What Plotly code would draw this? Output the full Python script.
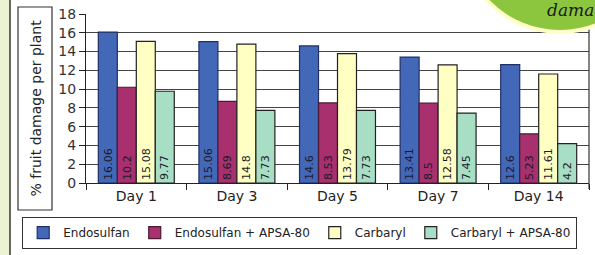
import plotly.graph_objects as go

days = ["Day 1", "Day 3", "Day 5", "Day 7", "Day 14"]
endosulfan = [16.06, 15.06, 14.6, 13.41, 12.6]
endosulfan_apsa = [10.2, 8.69, 8.53, 8.5, 5.23]
carbaryl = [15.08, 14.8, 13.79, 12.58, 11.61]
carbaryl_apsa = [9.77, 7.73, 7.73, 7.45, 4.2]

series = [
    ("Endosulfan", endosulfan, "#4468B8", "#1f2f66"),
    ("Endosulfan + APSA-80", endosulfan_apsa, "#A8306E", "#4a1a33"),
    ("Carbaryl", carbaryl, "#FFFFC4", "#222222"),
    ("Carbaryl + APSA-80", carbaryl_apsa, "#A8DEC4", "#222222"),
]

font_family = "DejaVu Sans, Verdana, sans-serif"

fig = go.Figure()
for name, vals, col, lcol in series:
    fig.add_trace(go.Bar(
        x=days, y=vals, name=name,
        marker=dict(color=col, line=dict(color=lcol, width=1.2)),
        text=[f"{v:g}" for v in vals],
        textposition="inside", insidetextanchor="start", textangle=-90,
        textfont=dict(size=12, color="#1a1a2a", family=font_family),
        cliponaxis=False,
    ))

W, H = 595, 255
L, R, T, B = 86, 6, 14, 72
pw, ph = W - L - R, H - T - B

def px(x):
    return (x - L) / pw

def py(y):
    return (H - B - y) / ph

shapes = [
    # light green strip at the left edge
    dict(type="rect", xref="paper", yref="paper", x0=px(0), x1=px(9.5), y0=py(H), y1=py(0),
         fillcolor="#EAF3D3", line=dict(width=0), layer="below"),
    dict(type="line", xref="paper", yref="paper", x0=px(10), x1=px(10), y0=py(H), y1=py(0),
         line=dict(color="#333333", width=1.5)),
    # y-axis title box
    dict(type="rect", xref="paper", yref="paper", x0=px(18), x1=px(52), y0=py(210), y1=py(7),
         line=dict(color="#333333", width=1.2), fillcolor="rgba(0,0,0,0)"),
    # right border of plot area
    dict(type="line", xref="paper", yref="paper", x0=1, x1=1, y0=py(189), y1=py(14),
         line=dict(color="#333333", width=1.2)),
    # green badge in the top-right corner
    dict(type="circle", xref="paper", yref="paper", x0=px(458), x1=px(662), y0=py(34), y1=py(-170),
         fillcolor="#FFFFC8", line=dict(width=0), layer="above"),
    dict(type="circle", xref="paper", yref="paper", x0=px(462), x1=px(658), y0=py(30), y1=py(-166),
         fillcolor="#8CC63F", line=dict(width=0), layer="above"),
]

annotations = [
    dict(text="% fruit damage per plant", xref="paper", yref="paper", x=px(35), y=py(108.5),
         textangle=-90, showarrow=False, font=dict(size=14, color="#222222", family=font_family),
         xanchor="center", yanchor="middle"),
    dict(text="<i>dama</i>", xref="paper", yref="paper", x=px(545), y=py(10),
         showarrow=False, xanchor="left", yanchor="middle",
         font=dict(size=17, color="#1a1a1a", family="DejaVu Serif, serif")),
]

fig.update_layout(
    width=W, height=H,
    margin=dict(l=L, r=R, t=T, b=B),
    paper_bgcolor="white", plot_bgcolor="white",
    barmode="group", bargap=0.245, bargroupgap=0,
    font=dict(family=font_family, color="#222222"),
    showlegend=True,
    legend=dict(orientation="h", x=px(22), y=py(217), xanchor="left", yanchor="top",
                bordercolor="#333333", borderwidth=1.2, bgcolor="white",
                font=dict(size=12, color="#222222", family=font_family),
                itemwidth=30, tracegroupgap=0, entrywidth=0),
    shapes=shapes,
    annotations=annotations,
    xaxis=dict(showline=True, linecolor="#222222", linewidth=1.2, ticks="outside",
               tickson="boundaries", ticklen=6, tickcolor="#222222",
               tickfont=dict(size=14, color="#222222"), showgrid=False),
    yaxis=dict(range=[0, 18], dtick=2, showline=True, linecolor="#222222", linewidth=1.2,
               ticks="outside", ticklen=6, tickcolor="#222222", showgrid=True,
               gridcolor="#444444", gridwidth=1, zeroline=False,
               tickfont=dict(size=14, color="#333333")),
)

fig.write_html("out.html", config={"displayModeBar": False},
               post_script="document.body.style.margin='0';document.body.style.overflow='hidden';")
